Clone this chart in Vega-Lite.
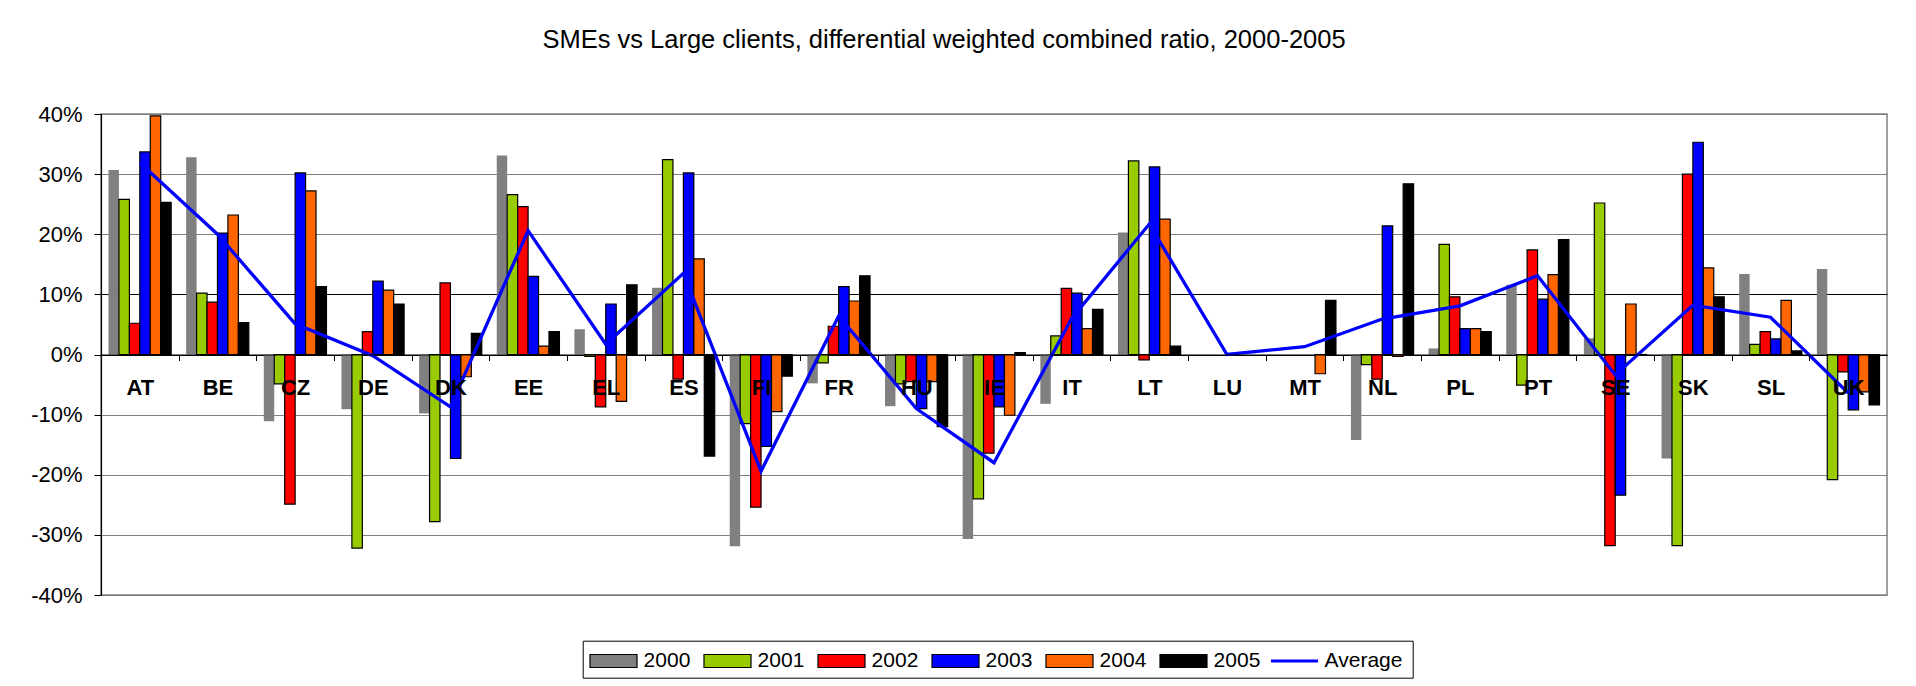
{
  "$schema": "https://vega.github.io/schema/vega-lite/v6.json",
  "width": 1786,
  "height": 481,
  "autosize": {"type": "none"},
  "padding": {"left": 101, "top": 114, "right": 29, "bottom": 91},
  "background": "white",
  "title": {
    "text": "SMEs vs Large clients, differential weighted combined ratio, 2000-2005",
    "font": "Liberation Sans",
    "fontSize": 25.5,
    "fontWeight": "normal",
    "color": "black",
    "anchor": "middle",
    "dx": -50,
    "offset": 30,
    "baseline": "alphabetic"
  },
  "config": {
    "view": {"stroke": "#808080", "strokeWidth": 1.5},
    "font": "Liberation Sans"
  },
  "datasets": {
    "bars": [
      {"country": "AT", "year": "2000", "value": 0.307},
      {"country": "AT", "year": "2001", "value": 0.258},
      {"country": "AT", "year": "2002", "value": 0.052},
      {"country": "AT", "year": "2003", "value": 0.337},
      {"country": "AT", "year": "2004", "value": 0.397},
      {"country": "AT", "year": "2005", "value": 0.253},
      {"country": "BE", "year": "2000", "value": 0.328},
      {"country": "BE", "year": "2001", "value": 0.102},
      {"country": "BE", "year": "2002", "value": 0.087},
      {"country": "BE", "year": "2003", "value": 0.202},
      {"country": "BE", "year": "2004", "value": 0.232},
      {"country": "BE", "year": "2005", "value": 0.053},
      {"country": "CZ", "year": "2000", "value": -0.111},
      {"country": "CZ", "year": "2001", "value": -0.049},
      {"country": "CZ", "year": "2002", "value": -0.249},
      {"country": "CZ", "year": "2003", "value": 0.302},
      {"country": "CZ", "year": "2004", "value": 0.272},
      {"country": "CZ", "year": "2005", "value": 0.113},
      {"country": "DE", "year": "2000", "value": -0.091},
      {"country": "DE", "year": "2001", "value": -0.322},
      {"country": "DE", "year": "2002", "value": 0.038},
      {"country": "DE", "year": "2003", "value": 0.122},
      {"country": "DE", "year": "2004", "value": 0.107},
      {"country": "DE", "year": "2005", "value": 0.084},
      {"country": "DK", "year": "2000", "value": -0.098},
      {"country": "DK", "year": "2001", "value": -0.278},
      {"country": "DK", "year": "2002", "value": 0.119},
      {"country": "DK", "year": "2003", "value": -0.173},
      {"country": "DK", "year": "2004", "value": -0.037},
      {"country": "DK", "year": "2005", "value": 0.035},
      {"country": "EE", "year": "2000", "value": 0.331},
      {"country": "EE", "year": "2001", "value": 0.266},
      {"country": "EE", "year": "2002", "value": 0.246},
      {"country": "EE", "year": "2003", "value": 0.13},
      {"country": "EE", "year": "2004", "value": 0.014},
      {"country": "EE", "year": "2005", "value": 0.038},
      {"country": "EL", "year": "2000", "value": 0.042},
      {"country": "EL", "year": "2001", "value": -0.003},
      {"country": "EL", "year": "2002", "value": -0.087},
      {"country": "EL", "year": "2003", "value": 0.084},
      {"country": "EL", "year": "2004", "value": -0.078},
      {"country": "EL", "year": "2005", "value": 0.116},
      {"country": "ES", "year": "2000", "value": 0.111},
      {"country": "ES", "year": "2001", "value": 0.324},
      {"country": "ES", "year": "2002", "value": -0.041},
      {"country": "ES", "year": "2003", "value": 0.302},
      {"country": "ES", "year": "2004", "value": 0.159},
      {"country": "ES", "year": "2005", "value": -0.169},
      {"country": "FI", "year": "2000", "value": -0.319},
      {"country": "FI", "year": "2001", "value": -0.115},
      {"country": "FI", "year": "2002", "value": -0.254},
      {"country": "FI", "year": "2003", "value": -0.153},
      {"country": "FI", "year": "2004", "value": -0.095},
      {"country": "FI", "year": "2005", "value": -0.036},
      {"country": "FR", "year": "2000", "value": -0.048},
      {"country": "FR", "year": "2001", "value": -0.014},
      {"country": "FR", "year": "2002", "value": 0.047},
      {"country": "FR", "year": "2003", "value": 0.113},
      {"country": "FR", "year": "2004", "value": 0.089},
      {"country": "FR", "year": "2005", "value": 0.131},
      {"country": "HU", "year": "2000", "value": -0.086},
      {"country": "HU", "year": "2001", "value": -0.049},
      {"country": "HU", "year": "2002", "value": -0.045},
      {"country": "HU", "year": "2003", "value": -0.09},
      {"country": "HU", "year": "2004", "value": -0.045},
      {"country": "HU", "year": "2005", "value": -0.12},
      {"country": "IE", "year": "2000", "value": -0.307},
      {"country": "IE", "year": "2001", "value": -0.24},
      {"country": "IE", "year": "2002", "value": -0.164},
      {"country": "IE", "year": "2003", "value": -0.087},
      {"country": "IE", "year": "2004", "value": -0.101},
      {"country": "IE", "year": "2005", "value": 0.003},
      {"country": "IT", "year": "2000", "value": -0.082},
      {"country": "IT", "year": "2001", "value": 0.031},
      {"country": "IT", "year": "2002", "value": 0.11},
      {"country": "IT", "year": "2003", "value": 0.102},
      {"country": "IT", "year": "2004", "value": 0.043},
      {"country": "IT", "year": "2005", "value": 0.075},
      {"country": "LT", "year": "2000", "value": 0.203},
      {"country": "LT", "year": "2001", "value": 0.322},
      {"country": "LT", "year": "2002", "value": -0.009},
      {"country": "LT", "year": "2003", "value": 0.312},
      {"country": "LT", "year": "2004", "value": 0.225},
      {"country": "LT", "year": "2005", "value": 0.014},
      {"country": "MT", "year": "2004", "value": -0.032},
      {"country": "MT", "year": "2005", "value": 0.09},
      {"country": "NL", "year": "2000", "value": -0.142},
      {"country": "NL", "year": "2001", "value": -0.017},
      {"country": "NL", "year": "2002", "value": -0.041},
      {"country": "NL", "year": "2003", "value": 0.214},
      {"country": "NL", "year": "2004", "value": -0.003},
      {"country": "NL", "year": "2005", "value": 0.284},
      {"country": "PL", "year": "2000", "value": 0.01},
      {"country": "PL", "year": "2001", "value": 0.183},
      {"country": "PL", "year": "2002", "value": 0.096},
      {"country": "PL", "year": "2003", "value": 0.043},
      {"country": "PL", "year": "2004", "value": 0.043},
      {"country": "PL", "year": "2005", "value": 0.038},
      {"country": "PT", "year": "2000", "value": 0.116},
      {"country": "PT", "year": "2001", "value": -0.051},
      {"country": "PT", "year": "2002", "value": 0.174},
      {"country": "PT", "year": "2003", "value": 0.092},
      {"country": "PT", "year": "2004", "value": 0.133},
      {"country": "PT", "year": "2005", "value": 0.191},
      {"country": "SE", "year": "2000", "value": 0.027},
      {"country": "SE", "year": "2001", "value": 0.252},
      {"country": "SE", "year": "2002", "value": -0.318},
      {"country": "SE", "year": "2003", "value": -0.234},
      {"country": "SE", "year": "2004", "value": 0.084},
      {"country": "SE", "year": "2005", "value": -0.001},
      {"country": "SK", "year": "2000", "value": -0.173},
      {"country": "SK", "year": "2001", "value": -0.318},
      {"country": "SK", "year": "2002", "value": 0.30},
      {"country": "SK", "year": "2003", "value": 0.353},
      {"country": "SK", "year": "2004", "value": 0.144},
      {"country": "SK", "year": "2005", "value": 0.096},
      {"country": "SL", "year": "2000", "value": 0.134},
      {"country": "SL", "year": "2001", "value": 0.017},
      {"country": "SL", "year": "2002", "value": 0.038},
      {"country": "SL", "year": "2003", "value": 0.026},
      {"country": "SL", "year": "2004", "value": 0.09},
      {"country": "SL", "year": "2005", "value": 0.006},
      {"country": "UK", "year": "2000", "value": 0.142},
      {"country": "UK", "year": "2001", "value": -0.208},
      {"country": "UK", "year": "2002", "value": -0.029},
      {"country": "UK", "year": "2003", "value": -0.092},
      {"country": "UK", "year": "2004", "value": -0.062},
      {"country": "UK", "year": "2005", "value": -0.084}
    ],
    "avg": [
      {"country": "AT", "value": 0.319},
      {"country": "BE", "value": 0.20},
      {"country": "CZ", "value": 0.051},
      {"country": "DE", "value": -0.002},
      {"country": "DK", "value": -0.087},
      {"country": "EE", "value": 0.206},
      {"country": "EL", "value": 0.017},
      {"country": "ES", "value": 0.135},
      {"country": "FI", "value": -0.194},
      {"country": "FR", "value": 0.064},
      {"country": "HU", "value": -0.09},
      {"country": "IE", "value": -0.18},
      {"country": "IT", "value": 0.06},
      {"country": "LT", "value": 0.217},
      {"country": "LU", "value": 0.0},
      {"country": "MT", "value": 0.013},
      {"country": "NL", "value": 0.059},
      {"country": "PL", "value": 0.081},
      {"country": "PT", "value": 0.131},
      {"country": "SE", "value": -0.034},
      {"country": "SK", "value": 0.082},
      {"country": "SL", "value": 0.062},
      {"country": "UK", "value": -0.064}
    ]
  },
  "layer": [
    {
      "data": {"name": "bars"},
      "mark": {"type": "bar", "stroke": "black"},
      "encoding": {
        "x": {
          "field": "country",
          "type": "nominal",
          "scale": {
            "domain": ["AT","BE","CZ","DE","DK","EE","EL","ES","FI","FR","HU","IE","IT","LT","LU","MT","NL","PL","PT","SE","SK","SL","UK"],
            "paddingInner": 0.193,
            "paddingOuter": 0.0965
          },
          "axis": {
            "title": null,
            "orient": "bottom",
            "offset": -240.5,
            "bandPosition": 0.5,
            "domainColor": "black",
            "domainWidth": 1.2,
            "tickColor": "black",
            "tickSize": 6,
            "tickOffset": -38.83,
            "labelOffset": 38.83,
            "labelFont": "Liberation Sans",
            "labelFontSize": 22,
            "labelFontWeight": "bold",
            "labelColor": "black",
            "labelPadding": 27,
            "labelBaseline": "middle",
            "labelAngle": 0,
            "grid": false,
            "zindex": 1
          }
        },
        "xOffset": {
          "field": "year",
          "type": "nominal",
          "scale": {"domain": ["2000","2001","2002","2003","2004","2005"], "paddingInner": 0, "paddingOuter": 0}
        },
        "y": {
          "field": "value",
          "type": "quantitative",
          "scale": {"domain": [-0.4, 0.4], "nice": false, "zero": true},
          "axis": {
            "title": null,
            "values": [-0.4, -0.3, -0.2, -0.1, 0, 0.1, 0.2, 0.3, 0.4],
            "labelExpr": "replace(format(datum.value, '.0%'), '\u2212', '-')",
            "labelFont": "Liberation Sans",
            "labelFontSize": 22,
            "labelColor": "black",
            "labelPadding": 12,
            "tickSize": 7,
            "tickColor": "black",
            "domainColor": "black",
            "domainWidth": 1.2,
            "grid": true,
            "gridWidth": 1.2,
            "gridColor": {"condition": {"test": "abs(datum.value) < 0.001 || abs(datum.value - 0.1) < 0.001", "value": "black"}, "value": "#808080"}
          }
        },
        "color": {
          "field": "year",
          "type": "nominal",
          "scale": {
            "domain": ["2000","2001","2002","2003","2004","2005","Average"],
            "range": ["#808080","#99cc00","#ff0000","#0000ff","#ff6600","#000000","#ffffff"]
          },
          "legend": {
            "title": null,
            "orient": "none",
            "legendX": 481.7,
            "legendY": 526.7,
            "direction": "horizontal",
            "columns": 7,
            "padding": 6.3,
            "strokeColor": "black",
            "labelFont": "Liberation Sans",
            "labelFontSize": 21,
            "labelColor": "black",
            "labelOffset": 26.6,
            "columnPadding": 10,
            "symbolSize": 676,
            "symbolType": "M-1,-0.5H2.615V0.5H-1Z",
            "symbolStrokeColor": "black",
            "symbolStrokeWidth": 1.2,
            "zindex": 1
          }
        },
        "strokeWidth": {"condition": {"test": "datum.year === '2000'", "value": 0}, "value": 1.2}
      }
    },
    {
      "data": {"name": "avg"},
      "mark": {"type": "line", "strokeWidth": 3.3},
      "encoding": {
        "x": {"field": "country", "type": "nominal"},
        "y": {"field": "value", "type": "quantitative"},
        "stroke": {
          "datum": "Average",
          "scale": {"domain": ["Average"], "range": ["#0000ff"]},
          "legend": {
            "title": null,
            "orient": "none",
            "legendX": 1165.5,
            "legendY": 529.5,
            "direction": "horizontal",
            "padding": 3,
            "fillColor": "white",
            "labelFont": "Liberation Sans",
            "labelFontSize": 21,
            "labelColor": "black",
            "labelOffset": 26.1,
            "symbolSize": 676,
            "symbolType": "M-1,0H2.615",
            "symbolStrokeWidth": 3,
            "zindex": 2
          }
        }
      }
    }
  ]
}
